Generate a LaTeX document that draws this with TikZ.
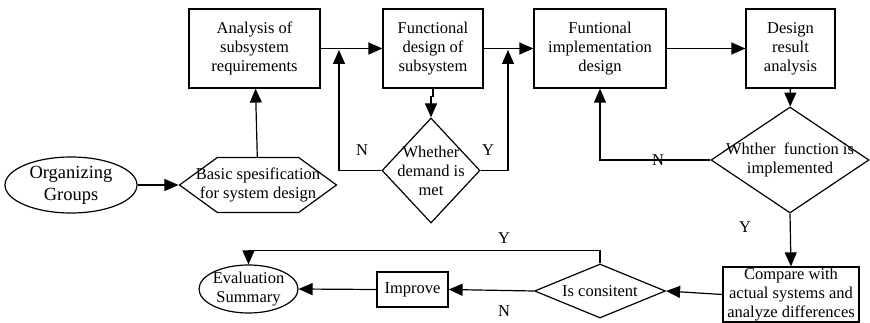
\documentclass[tikz,border=0pt]{standalone}
\usepackage{amsmath}
\usepackage{fontspec}
\setmainfont{Liberation Serif}
\newfontfamily\tnr{Liberation Serif}
\usetikzlibrary{arrows.meta,shapes.geometric,shapes.symbols}
\newcommand{\fs}{\tnr\fontsize{16.5}{19}\selectfont}
\newcommand{\fl}{\tnr\fontsize{18.5}{22}\selectfont}
\tikzset{
	box/.style={draw, rectangle, align=center, inner sep=1pt, line width=1.2pt, font=\fs},
	decide/.style={draw, diamond, inner sep=0pt, line width=1.2pt},
	oval/.style={draw, ellipse, inner sep=0pt, line width=1.2pt},
	hexa/.style={draw, signal, signal to=west and east, signal pointer angle=72, inner sep=0pt, line width=1.2pt},
	txt/.style={align=center, font=\fs, inner sep=0pt},
	flow/.style={-{Triangle[length=14pt,width=12pt]}, line width=1.2pt},
	yn/.style={font=\fs, inner sep=0pt}
}

\begin{document}
\begin{tikzpicture}[x=1pt, y=-1pt]
		\useasboundingbox (0,0) rectangle (870,323);
		% top row
		\node[box, minimum width=131pt, minimum height=79pt] (ana) at (254.5,48.5) {Analysis of\\subsystem\\requirements};
		\node[box, minimum width=100pt, minimum height=79pt] (fd) at (433,48.5) {Functional\\design of\\subsystem};
		\node[box, minimum width=132pt, minimum height=79pt] (impl) at (600,48.5) {Funtional\\implementation\\design};
		\node[box, minimum width=89pt, minimum height=79pt] (res) at (790.5,48.5) {Design\\result\\analysis};
		% middle row
		\node[oval, minimum width=132pt, minimum height=56pt, label={[txt, font=\fl]center:Organizing\\Groups}] (org) at (71,185) {};
		\node[hexa, minimum width=157pt, minimum height=55pt, label={[txt]center:Basic spesification\\for system design}] (spec) at (258,185) {};
		\node[decide, minimum width=98pt, minimum height=105pt, label={[txt]center:Whether\\demand is\\met}] (dm) at (431,170.5) {};
		\node[decide, minimum width=158pt, minimum height=106pt, label={[txt]center:Whther~~function is\\implemented}] (fi) at (790,160) {};
		% bottom row
		\node[box, minimum width=136pt, minimum height=55pt] (cmp) at (791,294.5) {Compare with\\actual systems and\\analyze differences};
		\node[decide, minimum width=131pt, minimum height=54pt, label={[txt]center:Is consitent}] (cons) at (600,291) {};
		\node[box, minimum width=71pt, minimum height=35pt] (imp) at (412.5,289.5) {Improve};
		\node[oval, minimum width=99pt, minimum height=48pt, label={[txt]center:Evaluation\\Summary}] (eva) at (248.5,289) {};
		% free ends of the loop-back arrows
		\coordinate (n1) at (339,50);
		\coordinate (y1) at (508,50);
		% connectors
		\draw[flow] (org) -- (spec);
		\draw[flow] (spec) -- (ana);
		\draw[flow] (ana) -- (fd);
		\draw[flow] (fd.south) -- ++(0,8) -| (dm.north);
		\draw[flow] (dm.west) -| (n1);
		\draw[flow] (dm.east) -| (y1);
		\draw[flow] (fd) -- (impl);
		\draw[flow] (impl) -- (res);
		\draw[flow] (res) -- (fi);
		\draw[flow] (fi.west) -| (impl.south);
		\draw[flow] (fi.south) -- (cmp.north);
		\draw[flow] (cmp.west) -- (cons.east);
		\draw[flow] (cons.west) -- (imp.east);
		\draw[flow] (imp.west) -- (eva.east);
		\draw[flow] (cons.north) -- ++(0,-13) -| (eva.north);
		% Y/N labels
		\node[yn] (n1lbl) at (362,150) {N};
		\node[yn] (y1lbl) at (488,150) {Y};
		\node[yn] (n2lbl) at (658,160) {N};
		\node[yn] (y2lbl) at (745,227) {Y};
		\node[yn] (y3lbl) at (504,238) {Y};
		\node[yn] (n3lbl) at (504,311) {N};
	\end{tikzpicture}
\end{document}
